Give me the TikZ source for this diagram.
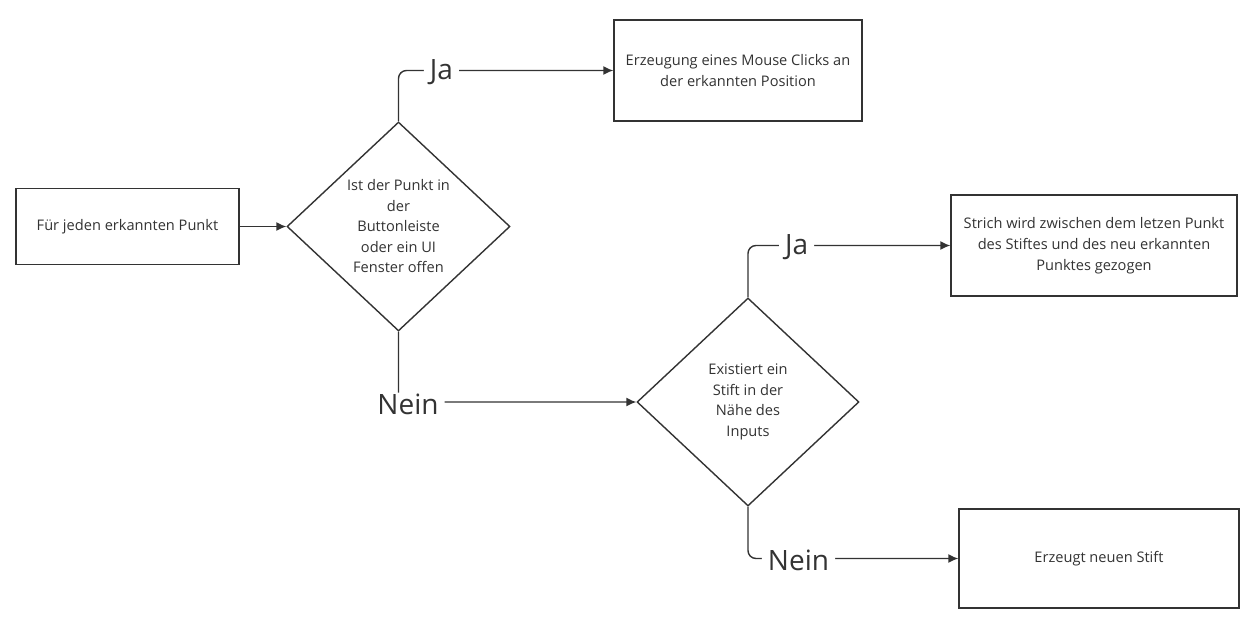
\documentclass[tikz,border=0pt]{standalone}
\usepackage{fontspec}
\setmainfont{Open Sans}
\usetikzlibrary{shapes.geometric,arrows.meta}
\definecolor{ln}{HTML}{333333}
\begin{document}
\begin{tikzpicture}[x=1pt,y=-1pt,
  box/.style={draw=ln,line width=1.4pt,inner sep=0pt,align=center,text=ln,font=\fontsize{14.6pt}{21pt}\selectfont},
  dia/.style={diamond,draw=ln,line width=1.4pt,inner sep=0pt,align=center,text=ln,font=\fontsize{14.6pt}{20.5pt}\selectfont,minimum width=223pt,minimum height=209pt},
  arr/.style={draw=ln,line width=1.4pt,-{Latex[length=10pt,width=9pt]},rounded corners=8pt},
  lbl/.style={fill=white,text=ln,inner xsep=6pt,inner ysep=1pt,yshift=-2pt,font=\fontsize{28pt}{32pt}\selectfont}]
\useasboundingbox[fill=white] (0,0) rectangle (1254,619);
\node[box,minimum width=223pt,minimum height=76pt] (a) at (127.5,226.5) {Für jeden erkannten Punkt};
\node[dia] (d1) at (398.5,226.5) {Ist der Punkt in\\der\\Buttonleiste\\oder ein UI\\Fenster offen};
\node[box,minimum width=248pt,minimum height=101pt] (b) at (738,70.5) {Erzeugung eines Mouse Clicks an\\der erkannten Position};
\node[dia,minimum width=222pt,minimum height=208pt] (d2) at (748,402) {Existiert ein\\Stift in der\\Nähe des\\Inputs};
\node[box,minimum width=286pt,minimum height=101pt] (c) at (1094,245.5) {Strich wird zwischen dem letzen Punkt\\des Stiftes und des neu erkannten\\Punktes gezogen};
\node[box,minimum width=280pt,minimum height=99pt] (e) at (1099,558.5) {Erzeugt neuen Stift};
\draw[arr] (a) -- (d1);
\draw[arr] (d1.north) |- node[lbl,pos=0.6] {Ja} (b.west);
\draw[arr] (d1.south) |- node[lbl,pos=0.52] {Nein} (d2.west);
\draw[arr] (d2.north) |- node[lbl,pos=0.62] {Ja} (c.west);
\draw[arr] (d2.south) |- node[lbl,pos=0.62] {Nein} (e.west);
\end{tikzpicture}
\end{document}
